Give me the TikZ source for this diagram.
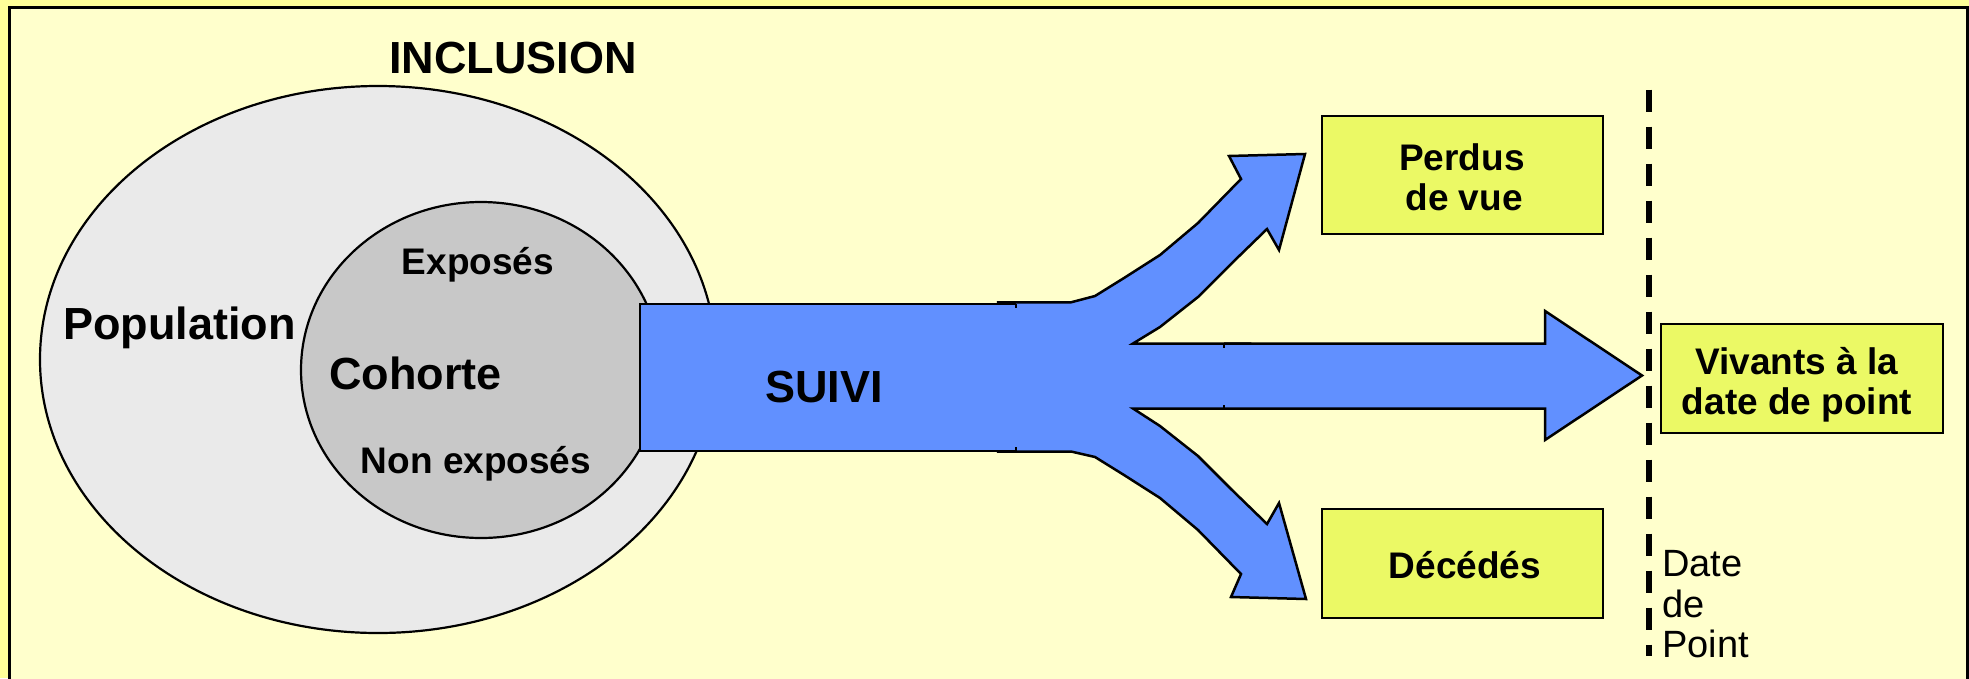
\documentclass[tikz,border=0pt]{standalone}
\usepackage{fontspec}
\setmainfont{Liberation Sans}
\definecolor{margin}{HTML}{FFFF99}
\definecolor{panel}{HTML}{FFFFCC}
\definecolor{popgray}{HTML}{EAEAEA}
\definecolor{cohgray}{HTML}{C8C8C8}
\definecolor{flowblue}{HTML}{6190FF}
\definecolor{boxyellow}{HTML}{EBF965}
\begin{document}
\begin{tikzpicture}[x=1pt,y=-1pt,
  outline/.style={draw=black,line width=2.5pt,line join=miter},
  bigtxt/.style={font=\bfseries\fontsize{45}{50}\selectfont,inner sep=0pt,anchor=base},
  midtxt/.style={font=\bfseries\fontsize{37}{41}\selectfont,inner sep=0pt,anchor=base},
  plaintxt/.style={font=\fontsize{38}{40}\selectfont,inner sep=0pt,anchor=base west},
  resultbox/.style={draw=black,line width=2.5pt,fill=boxyellow,inner sep=0pt},
]
\useasboundingbox (0,0) rectangle (1969,678);
\clip (0,0) rectangle (1969,678);

% page background and frame
\fill[margin] (0,0) rectangle (1969,678);
\filldraw[fill=panel,draw=black,line width=3pt] (9.5,7.5) rectangle (1967,700);

% population and cohort
\filldraw[fill=popgray,draw=black,line width=2.2pt] (378,359.5) ellipse [x radius=338pt,y radius=273.5pt];
\filldraw[fill=cohgray,draw=black,line width=2.2pt] (481,370) ellipse [x radius=180pt,y radius=168pt];

% three-way fork of the follow-up flow
\filldraw[fill=flowblue,outline]
  (998,302.3) -- (1071,302.3) -- (1095,296) -- (1124,278) -- (1160,255)
  -- (1198,223) -- (1241,179) -- (1229,156) -- (1305,154) -- (1279,250)
  -- (1267,229) -- (1232,263) -- (1198,297) -- (1160,327) -- (1133,343.5)
  -- (1250,343.5) -- (1250,408.5) -- (1133,408.5)
  -- (1160,426) -- (1198,456) -- (1232,490) -- (1267,524) -- (1279,503)
  -- (1306,599) -- (1231,597) -- (1241,574) -- (1198,530) -- (1160,498)
  -- (1124,475) -- (1095,457) -- (1071,451.5) -- (998,451.5) -- cycle;

% middle arrow towards the end date
\fill[flowblue] (1224,343.5) -- (1545,343.5) -- (1545,311) -- (1642,375.5)
  -- (1545,440) -- (1545,408.5) -- (1224,408.5) -- cycle;
\draw[outline] (1224,343.5) -- (1545,343.5) -- (1545,311) -- (1642,375.5)
  -- (1545,440) -- (1545,408.5) -- (1224,408.5);
\draw[line width=2.5pt] (1224,343.5) -- (1224,347.5) (1224,408.5) -- (1224,404.5);

% follow-up band
\fill[flowblue] (640,304) rectangle (1016,451);
\draw[outline] (1016,304) -- (640,304) -- (640,451) -- (1016,451);
\draw[line width=2.5pt] (1016,304) -- (1016,308) (1016,451) -- (1016,447);

% end-date marker
\coordinate (dtop) at (1649,89.5);
\coordinate (dbot) at (1649,656);
\draw[line width=6pt,dash pattern=on 22pt off 15pt] (dtop) -- (dbot);

% outcome boxes
\node[resultbox,minimum width=281pt,minimum height=118pt] (perdus) at (1462.5,175) {};
\node[resultbox,minimum width=282pt,minimum height=109pt] (vivants) at (1802,378.5) {};
\node[resultbox,minimum width=281pt,minimum height=109pt] (decedes) at (1462.5,563.5) {};

% labels
\node[bigtxt] (inclusion) at (513,73) {INCLUSION};
\node[bigtxt,anchor=base west] (population) at (63,339) {Population};
\node[bigtxt,anchor=base west] (cohorte) at (329,389) {Cohorte};
\node[midtxt] (exposes) at (478,274) {Exposés};
\node[midtxt] (nonexposes) at (476,473) {Non exposés};
\node[bigtxt] (suivi) at (824,402) {SUIVI};
\node[midtxt] (perdus1) at (1462,170) {Perdus};
\node[midtxt] (perdus2) at (1464,210) {de vue};
\node[midtxt] (viv1) at (1797,374) {Vivants à la};
\node[midtxt] (viv2) at (1797,414) {date de point};
\node[midtxt] (dec) at (1465,578) {Décédés};
\node[plaintxt] (dp1) at (1662,576) {Date};
\node[plaintxt] (dp2) at (1662,617) {de};
\node[plaintxt] (dp3) at (1662,657) {Point};
\end{tikzpicture}
\end{document}
